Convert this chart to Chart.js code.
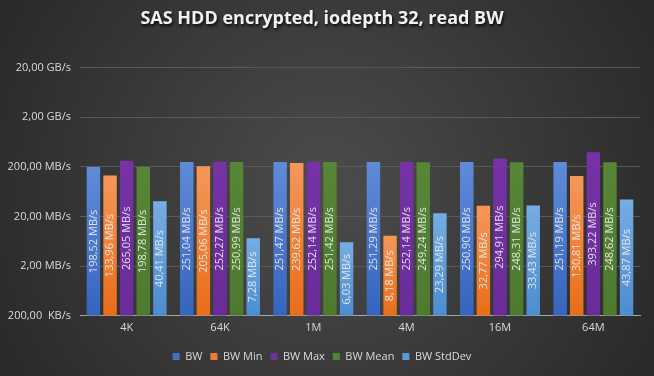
<!DOCTYPE html>
<html>
<head>
<meta charset="utf-8">
<script src="https://cdn.jsdelivr.net/npm/chart.js@4.4.1/dist/chart.umd.min.js"></script>
<style>
html,body{margin:0;padding:0;background:#333;}
#wrap{width:654px;height:376px;}
</style>
</head>
<body>
<div id="wrap"><canvas id="c" width="654" height="376"></canvas></div>
<script>
const categories = ["4K", "64K", "1M", "4M", "16M", "64M"];
const bw       = [198.52, 251.04, 251.47, 251.29, 250.90, 251.19];
const bwMin    = [133.96, 205.06, 239.62, 8.18, 32.77, 130.81];
const bwMax    = [265.05, 252.27, 252.14, 252.14, 294.91, 393.22];
const bwMean   = [198.78, 250.99, 251.42, 249.24, 248.31, 248.62];
const bwStdDev = [40.41, 7.28, 6.03, 23.29, 33.43, 43.87];
const seriesNames = ["BW", "BW Min", "BW Max", "BW Mean", "BW StdDev"];
const yTicks = [0.2, 2, 20, 200, 2000, 20000]; // MB/s

const colors = [
  {top:"#5f8bd8", bottom:"#3565bd", solid:"#4472C4"},
  {top:"#f5975a", bottom:"#e96d18", solid:"#ED7D31"},
  {top:"#7632a6", bottom:"#6a2c99", solid:"#7030A0"},
  {top:"#568636", bottom:"#4d7a2f", solid:"#548235"},
  {top:"#76ade2", bottom:"#4a8dcf", solid:"#5B9BD5"}
];

function fmtNum(v){ return v.toFixed(2).replace('.', ','); }
function fmtTick(v){
  if (v >= 1000) return fmtNum(v/1000) + " GB/s";
  if (v < 1) return fmtNum(v*1000) + "  KB/s";
  return fmtNum(v) + " MB/s";
}

function barFill(idx){
  return function(ctx){
    const c = colors[idx];
    if (ctx.type !== 'data') return c.solid;
    const chart = ctx.chart;
    const ys = chart.scales && chart.scales.y;
    if (!chart.chartArea || !ys) return c.solid;
    const top = ys.getPixelForValue(ctx.raw);
    const bottom = chart.chartArea.bottom;
    if (!isFinite(top) || !isFinite(bottom) || top >= bottom) return c.solid;
    const g = chart.ctx.createLinearGradient(0, top, 0, bottom);
    g.addColorStop(0, c.top);
    g.addColorStop(1, c.bottom);
    return g;
  };
}

const allData = [bw, bwMin, bwMax, bwMean, bwStdDev];

const bgPlugin = {
  id: 'bg',
  beforeDraw(chart){
    const {ctx, width, height} = chart;
    ctx.save();
    const g = ctx.createRadialGradient(width/2, height/2, 20, width/2, height/2, width*0.62);
    g.addColorStop(0, '#4a4a4a');
    g.addColorStop(1, '#262626');
    ctx.fillStyle = g;
    ctx.fillRect(0, 0, width, height);
    ctx.restore();
  }
};

const labelPlugin = {
  id: 'barLabels',
  afterDatasetsDraw(chart){
    const ctx = chart.ctx;
    ctx.save();
    ctx.font = '11px "Open Sans", sans-serif';
    ctx.fillStyle = 'rgba(235,235,235,0.92)';
    ctx.textAlign = 'center';
    ctx.textBaseline = 'middle';
    chart.data.datasets.forEach((ds, di) => {
      const meta = chart.getDatasetMeta(di);
      meta.data.forEach((el, i) => {
        const yc = (el.y + el.base) / 2;
        ctx.save();
        ctx.translate(el.x, yc);
        ctx.rotate(-Math.PI/2);
        ctx.fillText(fmtNum(ds.data[i]) + ' MB/s', 0, 0);
        ctx.restore();
      });
    });
    ctx.restore();
  }
};

const chart = new Chart(document.getElementById('c'), {
  type: 'bar',
  data: {
    labels: categories,
    datasets: seriesNames.map((n, i) => ({
      label: n,
      data: allData[i],
      backgroundColor: barFill(i),
      borderWidth: 0,
      barPercentage: 0.81,
      categoryPercentage: 0.89
    }))
  },
  options: {
    responsive: false,
    animation: false,
    devicePixelRatio: 1,
    layout: { padding: { left: 4, right: 14, top: 0, bottom: 4 } },
    plugins: {
      title: {
        display: true,
        text: 'SAS HDD encrypted, iodepth 32, read BW',
        color: '#f2f2f2',
        font: { family: '"Open Sans", sans-serif', size: 18, weight: 'bold' },
        padding: { top: 8, bottom: 38 }
      },
      legend: {
        position: 'bottom',
        labels: {
          color: '#d9d9d9',
          boxWidth: 7,
          boxHeight: 7,
          padding: 8,
          font: { family: '"Open Sans", sans-serif', size: 11 },
          generateLabels(chart){
            return seriesNames.map((n, i) => ({
              text: n,
              fillStyle: colors[i].solid,
              strokeStyle: colors[i].solid,
              lineWidth: 0,
              fontColor: '#d9d9d9',
              datasetIndex: i,
              hidden: false
            }));
          }
        }
      },
      tooltip: { enabled: false }
    },
    scales: {
      x: {
        grid: { display: false, drawTicks: false },
        border: { display: true, color: '#a6a6a6', width: 1 },
        afterFit(scale){ scale.height += 4; },
        ticks: { color: '#d9d9d9', font: { family: '"Open Sans", sans-serif', size: 11 }, padding: 5 }
      },
      y: {
        type: 'logarithmic',
        min: yTicks[0],
        max: yTicks[yTicks.length - 1],
        afterBuildTicks(scale){ scale.ticks = yTicks.map(v => ({ value: v })); },
        afterFit(scale){ scale.width = 76; },
        grid: {
          color: (ctx) => ctx.tick && ctx.tick.value === yTicks[0] ? '#a6a6a6' : '#595959',
          drawTicks: false,
          lineWidth: 1
        },
        border: { display: false },
        ticks: {
          color: '#d9d9d9',
          font: { family: '"Open Sans", sans-serif', size: 11 },
          padding: 9,
          callback: (v) => fmtTick(v)
        }
      }
    }
  },
  plugins: [bgPlugin, labelPlugin]
});

// soft text shadow on the title, as in the reference
if (chart.titleBlock) {
  const tb = chart.titleBlock;
  const origDraw = tb.draw.bind(tb);
  tb.draw = function(){
    const ctx = chart.ctx;
    ctx.save();
    ctx.shadowColor = 'rgba(0,0,0,0.85)';
    ctx.shadowOffsetX = 1;
    ctx.shadowOffsetY = 2;
    ctx.shadowBlur = 3;
    origDraw();
    ctx.restore();
  };
  chart.draw();
}
</script>
</body>
</html>
